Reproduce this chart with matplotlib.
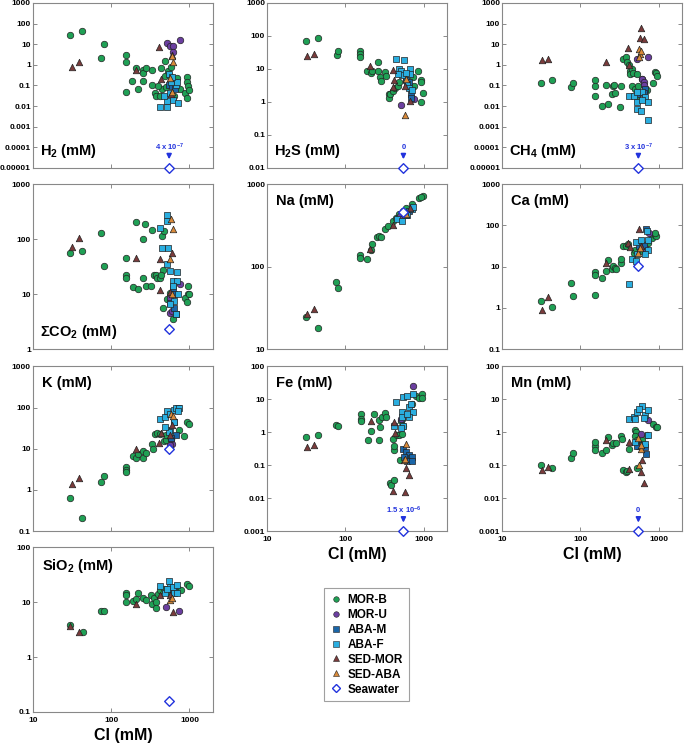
import matplotlib
matplotlib.use("Agg")
import matplotlib.pyplot as plt
from matplotlib.lines import Line2D

plt.rcParams['font.family'] = ['Liberation Sans', 'DejaVu Sans']
plt.rcParams['font.weight'] = 'bold'
plt.rcParams['axes.labelweight'] = 'bold'
plt.rcParams['mathtext.fontset'] = 'custom'
plt.rcParams['mathtext.rm'] = 'Liberation Sans:bold'
plt.rcParams['mathtext.bf'] = 'Liberation Sans:bold'
plt.rcParams['mathtext.default'] = 'bf'

groups = ["MOR-B", "MOR-U", "ABA-M", "ABA-F", "SED-MOR", "SED-ABA"]
colors = {"MOR-B": "#1fa055", "MOR-U": "#6b3fa0", "ABA-M": "#1a66a8",
          "ABA-F": "#2aaee0", "SED-MOR": "#7a3b3b", "SED-ABA": "#d98a3a"}
markers = {"MOR-B": "o", "MOR-U": "o", "ABA-M": "s", "ABA-F": "s",
           "SED-MOR": "^", "SED-ABA": "^"}
sw_color = "#2233dd"
sw_cl = 550

# (Cl, value) pairs, mM
h2 = {
    "MOR-B": [(30, 27), (43, 42), (80, 9.7), (75, 2.1), (154, 3), (154, 1.3), (154, 0.05), (187, 0.16),
              (210, 0.74), (222, 0.065), (256, 0.56), (256, 0.4), (276, 0.7), (256, 0.16), (336, 0.55),
              (330, 0.1), (363, 0.045), (375, 0.03), (434, 0.7), (440, 0.065), (487, 1.5), (487, 0.3),
              (495, 0.08), (537, 0.5), (560, 0.3), (580, 0.75), (610, 0.14), (640, 0.03), (690, 0.22),
              (760, 0.065), (880, 0.045), (935, 0.25), (935, 0.14), (945, 0.09), (980, 0.06),
              (935, 0.025), (420, 0.03), (400, 0.09)],
    "MOR-U": [(522, 12), (570, 8.5), (623, 8.5), (760, 16), (623, 4)],
    "ABA-M": [(550, 0.11), (600, 0.095), (650, 0.065), (650, 0.14)],
    "ABA-F": [(420, 0.0093), (510, 0.009), (510, 0.017), (470, 0.03), (610, 0.02), (720, 0.014),
              (560, 0.045), (670, 0.1), (700, 0.14), (580, 0.14), (550, 0.35), (590, 0.25)],
    "SED-MOR": [(31.6, 0.75), (38.4, 1.4), (210, 0.55), (414, 7), (600, 3), (430, 0.2), (580, 0.04)],
    "SED-ABA": [(611, 1.3), (590, 2.7), (560, 0.22), (590, 0.05)],
}
h2s = {
    "MOR-B": [(31, 68), (44, 84), (77, 26), (81, 34), (155, 35), (155, 28), (155, 23), (189, 8.7),
              (210, 7.5), (220, 8.7), (261, 16), (261, 8.7), (275, 5.5), (285, 4.3), (324, 8), (330, 6),
              (360, 1.7), (360, 1.3), (375, 1.7), (400, 2.2), (425, 2.7), (470, 3), (490, 3.9),
              (597, 4.7), (720, 5.5), (750, 3), (840, 8.7), (930, 4.7), (930, 3.9), (970, 1.8), (930, 1)],
    "MOR-U": [(515, 0.8), (760, 1.25)],
    "ABA-M": [(680, 1.7), (680, 1.3), (600, 4.7), (640, 3.9)],
    "ABA-F": [(440, 20), (560, 19), (490, 10), (505, 8.5), (530, 6.5), (475, 7), (660, 10), (660, 7),
              (620, 3.5), (650, 2.7), (700, 2.3), (590, 7.5)],
    "SED-MOR": [(32, 25), (40, 29), (205, 12), (410, 9.3), (420, 4.6), (400, 2.9), (570, 3), (660, 1.1)],
    "SED-ABA": [(570, 0.4), (597, 5)],
}
ch4 = {
    "MOR-B": [(31, 0.137), (43, 0.18), (75, 0.087), (81, 0.137), (153, 0.18), (153, 0.095), (153, 0.031),
              (187, 0.01), (210, 0.1), (222, 0.013), (250, 0.04), (262, 0.09), (270, 0.11), (280, 0.045),
              (329, 0.09), (320, 0.0086), (352, 1.9), (380, 2.3), (390, 1.4), (420, 1), (430, 0.52),
              (430, 0.35), (450, 0.6), (450, 0.09), (475, 0.4), (525, 0.35), (500, 0.07), (525, 0.03),
              (550, 0.09), (610, 0.2), (700, 0.06), (850, 0.137), (890, 0.46), (930, 0.4), (950, 0.3)],
    "MOR-U": [(525, 2), (740, 2.5), (610, 0.2), (640, 0.14), (650, 0.1)],
    "ABA-M": [(660, 0.07), (650, 0.045), (535, 0.04)],
    "ABA-F": [(416, 0.03), (480, 0.03), (525, 0.015), (525, 0.007), (600, 0.006), (620, 0.05),
              (660, 0.028), (730, 0.016), (730, 0.002), (525, 0.05), (610, 0.02)],
    "SED-MOR": [(32, 1.7), (39, 1.9), (210, 1.4), (410, 6.8), (420, 1), (590, 60), (575, 20), (650, 17)],
    "SED-ABA": [(560, 6), (575, 3.3), (560, 2.4), (600, 4.5)],
}
co2 = {
    "MOR-B": [(30, 55), (43, 62), (75, 132), (80, 33), (154, 45), (154, 22.5), (154, 20), (190, 13.4),
              (222, 12.6), (210, 207), (270, 187), (256, 100), (256, 20), (282, 14), (325, 14), (336, 150),
              (350, 22), (375, 22), (390, 20), (420, 19.5), (440, 115), (475, 140), (465, 28), (465, 5.7),
              (515, 8), (560, 10.5), (610, 3.5), (970, 14), (970, 10), (880, 8.5), (935, 7.2), (1000, 10),
              (430, 22)],
    "MOR-U": [(570, 4.6), (600, 5), (760, 15.4), (560, 8.5)],
    "ABA-M": [(640, 10), (610, 13), (670, 4.4), (640, 5.7), (560, 7)],
    "ABA-F": [(510, 280), (520, 215), (420, 162), (450, 70), (530, 70), (510, 36), (560, 26), (610, 17.5),
              (690, 25), (700, 17.5), (610, 14), (720, 10), (640, 7.5), (560, 6.5), (670, 4.4)],
    "SED-MOR": [(31.6, 72), (38.4, 107), (205, 45), (420, 43), (420, 11.8), (590, 57), (560, 11)],
    "SED-ABA": [(575, 230), (610, 153), (560, 43), (590, 10)],
}
na = {
    "MOR-B": [(31, 24.4), (44, 17.8), (76, 65), (81, 54.6), (155, 137), (155, 127), (189, 124), (211, 160),
              (220, 188), (250, 227), (270, 233), (285, 229), (324, 290), (352, 310), (400, 356), (440, 390),
              (480, 430), (540, 470), (600, 520), (710, 570), (860, 690), (970, 720), (930, 700)],
    "MOR-U": [(500, 410)],
    "ABA-M": [(650, 470), (590, 420)],
    "ABA-F": [(460, 380), (520, 360), (620, 420), (700, 500), (740, 530), (570, 440)],
    "SED-MOR": [(32, 26.5), (40, 30.5), (208, 165), (410, 320), (560, 450), (660, 520)],
    "SED-ABA": [(600, 430)],
}
ca = {
    "MOR-B": [(31, 1.45), (43, 1.07), (75, 4), (81, 2), (153, 7.4), (153, 6.3), (153, 2.1), (187, 5.2),
              (210, 8), (222, 14.8), (250, 8.7), (262, 10.4), (275, 9.5), (285, 9), (329, 12.6), (330, 15.6),
              (352, 31.6), (380, 32), (410, 35), (480, 22), (500, 26), (580, 24), (670, 26), (720, 38),
              (810, 50), (890, 60), (930, 55), (900, 65)],
    "MOR-U": [(670, 29), (760, 67)],
    "ABA-M": [(690, 80), (640, 33), (565, 32)],
    "ABA-F": [(416, 3.7), (450, 15), (520, 13.5), (530, 20), (520, 40), (600, 45), (700, 72), (730, 45),
              (720, 25), (660, 20)],
    "SED-MOR": [(32, 0.87), (39, 1.85), (210, 12), (410, 38), (430, 30), (560, 80), (590, 31)],
    "SED-ABA": [(550, 22), (575, 28)],
}
k = {
    "MOR-B": [(30, 0.63), (43, 0.21), (75, 1.55), (80, 2.2), (154, 3.7), (154, 3.1), (154, 2.7), (190, 6.8),
              (210, 5.8), (222, 7.3), (256, 6.1), (256, 8.8), (276, 8), (336, 13), (340, 10), (363, 22.5),
              (390, 24), (420, 23), (470, 15.5), (500, 16.5), (580, 17.6), (730, 28), (840, 20),
              (935, 45), (980, 40), (500, 22)],
    "MOR-U": [(600, 13), (580, 17), (570, 12)],
    "ABA-M": [(720, 95), (640, 45), (670, 21), (580, 18)],
    "ABA-F": [(420, 54), (490, 59), (510, 80), (560, 71), (640, 85), (680, 100), (730, 98), (710, 80),
              (640, 45), (560, 28), (540, 26), (490, 33)],
    "SED-MOR": [(31.6, 1.4), (38.4, 1.9), (205, 10), (414, 13.8), (430, 24), (600, 37), (560, 21)],
    "SED-ABA": [(580, 70), (610, 62)],
}
fe = {
    "MOR-B": [(31, 0.72), (44, 0.85), (76, 1.7), (81, 1.55), (158, 3.5), (158, 2.6), (158, 2.2), (193, 0.6),
              (215, 1.1), (230, 3.5), (265, 0.57), (265, 2.4), (280, 1.45), (295, 3), (324, 3.7), (330, 2.8),
              (375, 0.028), (380, 0.025), (420, 0.035), (400, 0.63), (415, 0.28), (415, 0.38), (455, 0.8),
              (480, 0.8), (530, 0.9), (545, 1.5), (510, 2.2), (530, 2.6), (700, 7.4), (800, 13),
              (880, 11), (950, 14), (960, 11), (500, 0.14)],
    "MOR-U": [(730, 24.7), (510, 2.6)],
    "ABA-M": [(550, 0.32), (590, 0.25), (640, 0.2), (680, 0.16), (700, 0.18), (620, 0.13), (560, 0.18),
              (700, 0.13)],
    "ABA-F": [(440, 8.3), (550, 11.7), (620, 13), (720, 14.7), (520, 4.2), (530, 2.9), (550, 1.6),
              (420, 1.6), (510, 1.3), (650, 5.9), (680, 7.4), (720, 4.2), (650, 2.8), (610, 3.6)],
    "SED-MOR": [(32, 0.36), (40, 0.4), (210, 2.2), (420, 2), (430, 0.95), (400, 0.017), (580, 0.015),
                (600, 0.08), (650, 0.05)],
    "SED-ABA": [(600, 0.45), (560, 0.14), (570, 0.15)],
}
mn = {
    "MOR-B": [(31, 0.1), (43, 0.083), (75, 0.17), (81, 0.24), (153, 0.38), (153, 0.5), (153, 0.29),
              (187, 0.24), (210, 0.29), (222, 0.72), (250, 0.4), (262, 0.48), (285, 0.46), (329, 0.77),
              (335, 0.63), (352, 0.07), (380, 0.063), (390, 0.068), (500, 1.2), (520, 1.05), (500, 0.75),
              (525, 0.6), (525, 0.085), (610, 0.6), (700, 0.8), (850, 1.8), (930, 1.48), (960, 1.45),
              (420, 0.3)],
    "MOR-U": [(740, 2.3), (600, 0.9), (540, 0.38)],
    "ABA-M": [(525, 0.37), (610, 0.4), (670, 0.35), (680, 0.22)],
    "ABA-F": [(416, 2.6), (480, 2.9), (525, 4.1), (610, 6.1), (660, 3.4), (730, 4.7), (555, 5),
              (500, 2.5), (640, 2.7), (730, 0.8), (500, 0.5), (660, 0.45)],
    "SED-MOR": [(32, 0.07), (39, 0.087), (210, 0.6), (420, 0.5), (420, 0.077), (610, 0.14), (590, 0.063),
                (650, 0.028)],
    "SED-ABA": [(550, 0.66), (590, 0.31), (560, 0.1), (600, 0.4)],
}
sio2 = {
    "MOR-B": [(30, 3.85), (44, 2.8), (75, 7), (80, 7), (154, 14.6), (154, 13.6), (154, 10), (190, 10.5),
              (210, 11.5), (222, 14.6), (256, 12), (276, 11), (325, 13.6), (336, 9.3), (350, 12), (375, 10),
              (375, 7.8), (400, 14), (420, 16.8), (475, 17.5), (560, 14.6), (720, 17), (780, 16.5),
              (935, 21.6), (980, 19.4)],
    "MOR-U": [(500, 8.3), (730, 7)],
    "ABA-M": [(550, 17), (640, 17.5)],
    "ABA-F": [(420, 19.3), (540, 23.8), (560, 19), (610, 19), (640, 14.6), (690, 20.5), (700, 14.6),
              (490, 14.6), (510, 17)],
    "SED-MOR": [(30, 3.7), (38.4, 2.9), (205, 9.3), (420, 13.6), (610, 6.5), (560, 13.6)],
    "SED-ABA": [(570, 11), (590, 12)],
}

# seawater value per panel (None = below the axis, shown with arrow and note)
sw_co2 = 2.3
sw_na = 464
sw_ca = 10.3
sw_k = 10
sw_sio2 = 0.16

panels = [
    (h2, r"H$_2$ (mM)", (1e-5, 1000), "low", None, "4 x 10$^{-7}$"),
    (h2s, r"H$_2$S (mM)", (0.01, 1000), "low", None, "0"),
    (ch4, r"CH$_4$ (mM)", (1e-5, 1000), "low", None, "3 x 10$^{-7}$"),
    (co2, r"ΣCO$_2$ (mM)", (1, 1000), "low", sw_co2, None),
    (na, "Na (mM)", (10, 1000), "high", sw_na, None),
    (ca, "Ca (mM)", (0.1, 1000), "high", sw_ca, None),
    (k, "K (mM)", (0.1, 1000), "high", sw_k, None),
    (fe, "Fe (mM)", (0.001, 100), "high", None, "1.5 x 10$^{-6}$"),
    (mn, "Mn (mM)", (0.001, 100), "high", None, "0"),
    (sio2, r"SiO$_2$ (mM)", (0.1, 100), "high", sw_sio2, None),
]

fig = plt.figure(figsize=(6.85, 7.46), dpi=100)
lefts = [0.048, 0.390, 0.733]
bottoms = [0.775, 0.532, 0.288, 0.0456]
w, h = 0.263, 0.221


def fmt(v):
    if v >= 1:
        return "%d" % v
    return ("%.6f" % v).rstrip("0")


for i, (data, label, ylim, pos, sw, note) in enumerate(panels):
    row, col = divmod(i, 3)
    ax = fig.add_axes([lefts[col], bottoms[row], w, h])
    ax.set_xscale("log")
    ax.set_yscale("log")
    ax.set_xlim(10, 2000)
    ax.set_ylim(*ylim)
    for g in groups:
        pts = data[g]
        ax.scatter([p[0] for p in pts], [p[1] for p in pts], s=22, marker=markers[g],
                   c=colors[g], edgecolors="#222222", linewidths=0.5, zorder=3)
    if sw is not None:
        ax.scatter([sw_cl], [sw], s=24, marker="D", facecolors="white",
                   edgecolors=sw_color, linewidths=1.0, zorder=4)
    else:
        ax.scatter([sw_cl], [ylim[0]], s=24, marker="D", facecolors="white",
                   edgecolors=sw_color, linewidths=1.0, zorder=5, clip_on=False)
        ax.annotate("", xy=(sw_cl, 0.035), xytext=(sw_cl, 0.10),
                    xycoords=("data", "axes fraction"),
                    arrowprops=dict(arrowstyle="-|>", color=sw_color, lw=1.2,
                                    mutation_scale=7))
        ax.text(sw_cl, 0.125, note, color=sw_color, fontsize=5.5, ha="center",
                va="center", transform=ax.get_xaxis_transform())
    yt = []
    v = ylim[0]
    while v <= ylim[1] * 1.001:
        yt.append(v)
        v *= 10
    ax.set_yticks(yt)
    ax.set_yticklabels([fmt(t) for t in yt], fontsize=6, fontweight="bold")
    ax.set_xticks([10, 100, 1000])
    ax.minorticks_off()
    ax.tick_params(direction="in", length=3, width=0.6, top=True, right=True,
                   color="#777777", pad=1.5)
    ax.tick_params(axis="x", pad=3.5)
    if i >= 7:
        ax.set_xticklabels(["10", "100", "1000"], fontsize=6, fontweight="bold")
        ax.set_xlabel("Cl (mM)", fontsize=11.5, fontweight="bold", labelpad=3)
    else:
        ax.set_xticklabels([])
    for sp in ax.spines.values():
        sp.set_color("#888888")
        sp.set_linewidth(0.8)
    if pos == "low":
        ax.text(0.04, 0.05, label, transform=ax.transAxes, fontsize=10.5, ha="left", va="bottom")
    else:
        ax.text(0.05, 0.94, label, transform=ax.transAxes, fontsize=10.5, ha="left", va="top")

handles = [Line2D([], [], ls="none", marker=markers[g], markerfacecolor=colors[g],
                  markeredgecolor="#222222", markeredgewidth=0.4, markersize=4) for g in groups]
handles.append(Line2D([], [], ls="none", marker="D", markerfacecolor="white",
                      markeredgecolor=sw_color, markeredgewidth=1.0, markersize=4.5))
leg = fig.legend(handles, groups + ["Seawater"], loc="upper left",
                 bbox_to_anchor=(318 / 685, 1 - 582 / 746), fontsize=8.5, frameon=True,
                 fancybox=False, handlelength=1.0, handletextpad=0.5, labelspacing=0.25,
                 borderpad=0.5)
leg.get_frame().set_edgecolor("#888888")
leg.get_frame().set_linewidth(0.8)

fig.savefig("out.png", dpi=100)
